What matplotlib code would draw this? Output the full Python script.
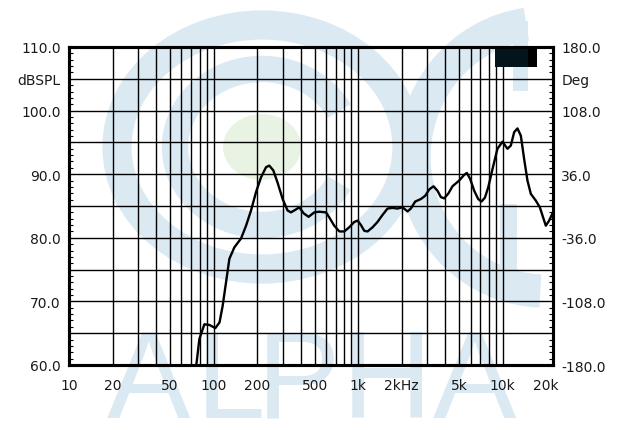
import matplotlib
matplotlib.use("Agg")
import matplotlib.pyplot as plt
import numpy as np
from matplotlib.patches import Arc, Ellipse, Rectangle
from matplotlib.ticker import MultipleLocator, NullLocator

plt.rcParams['font.family'] = ['DejaVu Sans']

# frequency response (Hz, dB SPL)
freq = [76, 79.8, 86.4, 93.5, 102.9, 110, 115.6, 122, 128.7, 139.3, 155, 167.8,
        181.7, 196.8, 213, 230.7, 243, 259, 277, 300.6, 325, 343, 368, 392, 420,
        454.6, 497.6, 539, 600, 632, 684, 741, 802, 868, 941, 992, 1047, 1103,
        1163, 1259, 1363, 1476, 1598, 1730, 1874, 2029, 2197, 2317, 2483, 2719,
        2911, 3103, 3323, 3541, 3737, 3940, 4220, 4497, 5003, 5420, 5656, 5960,
        6356, 6771, 7136, 7534, 7941, 8504, 9204, 9968, 10792, 11392, 12010,
        12660, 13360, 14080, 14845, 15670, 16960, 18080, 19050, 19890, 20960, 22300]
spl = [60.0, 64.1, 66.4, 66.3, 65.8, 66.7, 69.3, 73.0, 76.7, 78.5, 79.9, 81.9,
       84.3, 87.2, 89.5, 91.1, 91.35, 90.6, 88.7, 86.1, 84.3, 84.0, 84.4, 84.8, 83.85,
       83.3, 84.0, 84.1, 84.0, 83.2, 81.9, 81.0, 81.0, 81.65, 82.5, 82.7, 82.0, 81.1,
       81.0, 81.65, 82.5, 83.6, 84.6, 84.7, 84.6, 84.8, 84.15, 84.6, 85.7, 86.1,
       86.6, 87.6, 88.1, 87.4, 86.4, 86.2, 87.0, 88.1, 89.0, 89.9, 90.2, 89.25,
       87.4, 86.1, 85.7, 86.3, 87.9, 90.8, 94.0, 95.1, 94.0, 94.5, 96.6,
       97.2, 96.05, 92.4, 89.0, 86.9, 85.85, 84.8, 83.2, 81.9, 82.7, 84.0]

xtick_pos = [10, 20, 50, 100, 200, 500, 1000, 2000, 5000, 10000, 20000]
xtick_lab = ['10', '20', '50', '100', '200', '500', '1k', '2kHz', '5k', '10k', '20k']
ytick_pos = [60, 65, 70, 75, 80, 85, 90, 95, 100, 105, 110]
ytick_lab = ['60.0', '', '70.0', '', '80.0', '', '90.0', '', '100.0', 'dBSPL', '110.0']
deg_pos = [-180, -144, -108, -72, -36, 0, 36, 72, 108, 144, 180]
deg_lab = ['-180.0', '', '-108.0', '', '-36.0', '', '36.0', '', '108.0', 'Deg', '180.0']

W, H = 623, 431
fig = plt.figure(figsize=(W / 100, H / 100), dpi=100)
fig.patch.set_facecolor('white')

# watermark logo, drawn in pixel coordinates behind the chart
bg = fig.add_axes([0, 0, 1, 1], zorder=0)
bg.set_xlim(0, W)
bg.set_ylim(H, 0)
bg.axis('off')
blue = '#dae9f2'
bg.add_patch(Arc((262, 148), 290, 244, theta1=0, theta2=360, lw=21, color=blue))
bg.add_patch(Arc((262, 148), 174, 156, theta1=25, theta2=335, lw=19, color=blue))
bg.add_patch(Arc((545, 158), 262, 268, theta1=92, theta2=262, lw=24, color=blue))
bg.add_patch(Rectangle((513, 22), 15, 70, color=blue, lw=0))
bg.add_patch(Rectangle((500, 205), 17, 82, color=blue, lw=0))
bg.add_patch(Ellipse((262, 148), 78, 66, color='#e9f3e3', lw=0))
for ch, xc in zip('ALPHA', [148, 230, 298, 387, 474]):
    bg.text(xc, 418, ch, fontsize=90, color=blue, ha='center', va='baseline',
            family=['Liberation Sans', 'DejaVu Sans'])

ax = fig.add_axes([69 / W, 1 - 366 / H, (553 - 69) / W, (366 - 48) / H], zorder=1)
ax.set_facecolor('none')
ax.set_xscale('log')
ax.set_xlim(10, 22300)
ax.set_ylim(60, 110)

# grid: every 1..9 step in each decade, every 5 dB
grid_f = [m * 10 ** d for d in (1, 2, 3) for m in range(1, 10)][1:] + [10000]
for f in grid_f:
    ax.axvline(f, color='black', lw=1.0, zorder=1)
for y in ytick_pos[1:-1]:
    ax.axhline(y, color='black', lw=1.0, zorder=1)

ax.plot(freq, spl, color='black', lw=1.7, zorder=3, solid_joinstyle='round')

ax.set_xticks(xtick_pos)
ax.set_xticklabels(xtick_lab)
ax.xaxis.set_minor_locator(NullLocator())
ax.tick_params(axis='x', length=0, pad=9, labelsize=10, labelcolor='#1a1a1a')

ax.set_yticks(ytick_pos)
ax.set_yticklabels(ytick_lab)
ax.yaxis.set_minor_locator(MultipleLocator(1))
ax.tick_params(axis='y', which='major', length=0, pad=6, labelsize=10, labelcolor='#1a1a1a')
ax.tick_params(axis='y', which='minor', direction='in', length=3, width=0.8)

ax2 = ax.twinx()
ax2.set_ylim(-180, 180)
ax2.set_yticks(deg_pos)
ax2.set_yticklabels(deg_lab)
ax2.yaxis.set_minor_locator(MultipleLocator(7.2))
ax2.tick_params(axis='y', which='major', length=0, pad=6, labelsize=10, labelcolor='#1a1a1a')
ax2.tick_params(axis='y', which='minor', direction='in', length=3, width=0.8)

for a in (ax, ax2):
    for s in a.spines.values():
        s.set_linewidth(2.2)
        s.set_color('black')

# legend box in the corner
ax.add_patch(Rectangle((0.880, 0.937), 0.068, 0.057, transform=ax.transAxes,
                       color='#03141c', lw=0, zorder=4))
ax.add_patch(Rectangle((0.948, 0.937), 0.019, 0.057, transform=ax.transAxes,
                       color='black', lw=0, zorder=4))

fig.savefig('out.png', dpi=100)
